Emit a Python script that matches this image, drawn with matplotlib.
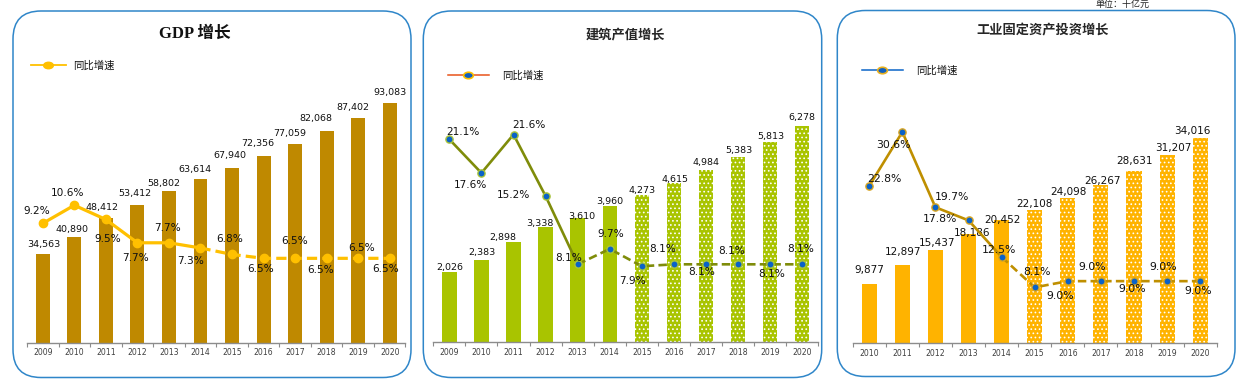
import matplotlib
matplotlib.use('Agg')
import matplotlib.pyplot as plt
from matplotlib.patches import FancyBboxPatch
from matplotlib.path import Path
from matplotlib.transforms import Affine2D
from matplotlib.ticker import NullFormatter
import numpy as np

plt.rcParams['font.family'] = ['DejaVu Sans', 'Noto Sans CJK SC']
plt.rcParams['hatch.linewidth'] = 0.7

# ---------------- data ----------------
gdp_years = ['2009', '2010', '2011', '2012', '2013', '2014', '2015', '2016', '2017', '2018', '2019', '2020']
gdp_values = [34563, 40890, 48412, 53412, 58802, 63614, 67940, 72356, 77059, 82068, 87402, 93083]
gdp_growth = [9.2, 10.6, 9.5, 7.7, 7.7, 7.3, 6.8, 6.5, 6.5, 6.5, 6.5, 6.5]

con_years = ['2009', '2010', '2011', '2012', '2013', '2014', '2015', '2016', '2017', '2018', '2019', '2020']
con_values = [2026, 2383, 2898, 3338, 3610, 3960, 4273, 4615, 4984, 5383, 5813, 6278]
con_growth = [21.1, 17.6, 21.6, 15.2, 8.1, 9.7, 7.9, 8.1, 8.1, 8.1, 8.1, 8.1]

ind_years = ['2010', '2011', '2012', '2013', '2014', '2015', '2016', '2017', '2018', '2019', '2020']
ind_values = [9877, 12897, 15437, 18186, 20452, 22108, 24098, 26267, 28631, 31207, 34016]
ind_growth = [22.8, 30.6, 19.7, 17.8, 12.5, 8.1, 9.0, 9.0, 9.0, 9.0, 9.0]

titles = ['GDP 增长', '建筑产值增长', '工业固定资产投资增长']
legend_label = '同比增速'
unit_label = '单位：十亿元'

# ---------------- layout (pixels) ----------------
W, H = 1245, 385
fig = plt.figure(figsize=(W / 100, H / 100), dpi=100)
fig.patch.set_facecolor('white')


def rect(x0, x1, base, top=40):
    return [x0 / W, (H - base) / H, (x1 - x0) / W, (base - top) / H]


ellipse = Path.unit_circle().transformed(Affine2D().scale(1.5, 1.0))

panels = [
    dict(years=gdp_years, values=gdp_values, growth=gdp_growth,
         rect=rect(27, 405.5, 342.5), bmax=117566, lmax=23.36, width=0.44,
         bar_color='#BF8900', forecast_from=None,
         line_color='#FFC000', lw=2.3, mfc='#FFC000', mec='#FFC000', ms=6.0,
         solid_to=5, bar_fs=6.8, pct_fs=7.6,
         bar_off=[(1, 8.6), (-2, 7.3), (-4, 10.2), (-3, 11.8), (-5, 7.9), (-6, 9.5),
                  (-2, 12), (-6, 13), (-5, 10.9), (-11, 13), (-5, 10.3), (0, 10.3)],
         pct_off=[(-6, 12), (-7, 12), (2, -19.6), (-2, -15), (-1, 15), (-10, -13),
                  (-2, 15), (-3, -11), (0, 17), (-6, -12), (3, 10), (-4.5, -11)]),
    dict(years=con_years, values=con_values, growth=con_growth,
         rect=rect(433.3, 818.3, 342.2), bmax=8763, lmax=31.43, width=0.45,
         bar_color='#A9C400', forecast_from=6,
         line_color='#7F8C0A', lw=1.9, mfc='#0A62C8', mec='#A9C43A', ms=5.2,
         solid_to=4, bar_fs=6.8, pct_fs=7.6,
         bar_off=[(0, 5), (0, 7.3), (-11, 5), (-6, 3.8), (4, 1), (0, 4), (0, 4),
                  (1, 3.7), (0, 7.6), (1, 5.6), (1, 5.7), (0, 8.4)],
         pct_off=[(14, 7), (-10.7, -12), (15.5, 9.7), (-32, 1), (-9.4, 6.7), (1, 14.7),
                  (-9, -15), (-11, 15), (-4.4, -7.4), (-6, 13.6), (2, -9.7), (-1.7, 15)]),
    dict(years=ind_years, values=ind_values, growth=ind_growth,
         rect=rect(852.7, 1216.7, 343.3), bmax=50254, lmax=43.92, width=0.455,
         bar_color='#FFB300', forecast_from=5,
         line_color='#BF8F00', lw=1.9, mfc='#0A62C8', mec='#D9A520', ms=5.2,
         solid_to=4, bar_fs=7.5, pct_fs=7.8,
         bar_off=[(0, 13.7), (0.4, 13.5), (1.4, 6.8), (4, 0.2), (0.4, 0), (0, 6),
                  (0.4, 5.6), (1.4, 3.8), (0.7, 9.5), (6.7, 7.2), (-7.6, 7)],
         pct_off=[(14.7, 7), (-9, -13), (16.4, 10), (-28.3, 1), (-3, 7), (2.4, 15.4),
                  (-7.3, -14.8), (-8.6, 14), (-1.6, -7.8), (-3.6, 14), (-1.6, -9.8)]),
]

for p in panels:
    n = len(p['years'])
    x = np.arange(n)
    ax = fig.add_axes(p['rect'])
    ax.patch.set_alpha(0)
    bars = ax.bar(x, p['values'], width=p['width'], color=p['bar_color'], linewidth=0, zorder=2)
    if p['forecast_from'] is not None:
        for b in bars[p['forecast_from']:]:
            b.set_edgecolor('white')
            b.set_linewidth(0)
            b.set_hatch('....')
    ax.set_xlim(-0.5, n - 0.5)
    ax.set_ylim(0, p['bmax'])
    for s in ['top', 'left', 'right']:
        ax.spines[s].set_visible(False)
    ax.spines['bottom'].set_color('#8C8C8C')
    ax.spines['bottom'].set_linewidth(1.0)
    ax.set_yticks([])
    ax.set_xticks(np.arange(-0.5, n, 1.0))
    ax.xaxis.set_major_formatter(NullFormatter())
    ax.set_xticks(x, minor=True)
    ax.set_xticklabels(p['years'], minor=True)
    ax.tick_params(axis='x', which='major', length=3, width=0.8, color='#8C8C8C', direction='out')
    ax.tick_params(axis='x', which='minor', length=0, pad=4.3, labelsize=5.6, labelcolor='#404040')

    for i, v in enumerate(p['values']):
        dx, dy = p['bar_off'][i]
        ax.annotate(f'{v:,}', xy=(i, v), xytext=(dx, dy), textcoords='offset pixels',
                    ha='center', va='center', fontsize=p['bar_fs'], color='#111111', zorder=3)

    ax2 = ax.twinx()
    ax2.set_ylim(0, p['lmax'])
    ax2.set_axis_off()
    k = p['solid_to']
    g = p['growth']
    ax2.plot(x[:k + 1], g[:k + 1], color=p['line_color'], lw=p['lw'], solid_capstyle='round', zorder=3)
    ax2.plot(x[k:], g[k:], color=p['line_color'], lw=p['lw'], dashes=(3.2, 1.6), zorder=3)
    ax2.plot(x, g, linestyle='none', marker='o', ms=p['ms'], mfc=p['mfc'], mec=p['mec'],
             mew=1.0, zorder=4)
    for i, v in enumerate(g):
        dx, dy = p['pct_off'][i]
        ax2.annotate(f'{v:.1f}%', xy=(i, v), xytext=(dx, dy), textcoords='offset pixels',
                     ha='center', va='center', fontsize=p['pct_fs'], color='#111111', zorder=5)

# ---------------- overlay: boxes, titles, legends ----------------
ov = fig.add_axes([0, 0, 1, 1])
ov.set_xlim(0, W)
ov.set_ylim(H, 0)
ov.set_axis_off()
ov.patch.set_alpha(0)

boxes = [(13, 11, 398, 366.5), (423.3, 11, 398.4, 366.5), (837.3, 10.5, 397.7, 366)]
for (bx, by, bw, bh) in boxes:
    ov.add_patch(FancyBboxPatch((bx, by), bw, bh, boxstyle='round,pad=0,rounding_size=28',
                                facecolor='none', edgecolor='#2F86C9', linewidth=1.1))

ov.text(194.5, 34, titles[0], ha='center', va='center', fontsize=12, fontweight='bold',
        family=['Liberation Serif', 'Noto Sans CJK SC'], color='#111111')
ov.text(625.5, 34, titles[1], ha='center', va='center', fontsize=9.5, fontweight='bold',
        family=['Noto Sans CJK SC'], color='#262626')
ov.text(1043, 30, titles[2], ha='center', va='center', fontsize=9.5, fontweight='bold',
        family=['Noto Sans CJK SC'], color='#262626')

# legends
ov.plot([31, 66], [65, 65], color='#FFC000', lw=1.3)
ov.plot([48], [65], linestyle='none', marker=ellipse, ms=7, mfc='#FFC000', mec='#FFC000')
ov.text(72.7, 66, legend_label, ha='left', va='center', fontsize=7.5,
        family=['Noto Sans CJK SC'], color='#111111')

ov.plot([448, 489], [75.3, 75.3], color='#E8541A', lw=1.1)
ov.plot([468], [75.3], linestyle='none', marker=ellipse, ms=7, mfc='#1060C0', mec='#FFC000', mew=1.2)
ov.text(501.7, 75.5, legend_label, ha='left', va='center', fontsize=7.5,
        family=['Noto Sans CJK SC'], color='#111111')

ov.plot([861.7, 902.7], [70.3, 70.3], color='#0A64C8', lw=1.1)
ov.plot([882], [70.3], linestyle='none', marker=ellipse, ms=7, mfc='#1060C0', mec='#E8B020', mew=1.2)
ov.text(916, 70.5, legend_label, ha='left', va='center', fontsize=7.5,
        family=['Noto Sans CJK SC'], color='#111111')

ov.text(1122, 4.6, unit_label, ha='center', va='center', fontsize=6.5,
        family=['Noto Sans CJK SC'], color='#222222')

fig.savefig('out.png', dpi=100, facecolor='white')
